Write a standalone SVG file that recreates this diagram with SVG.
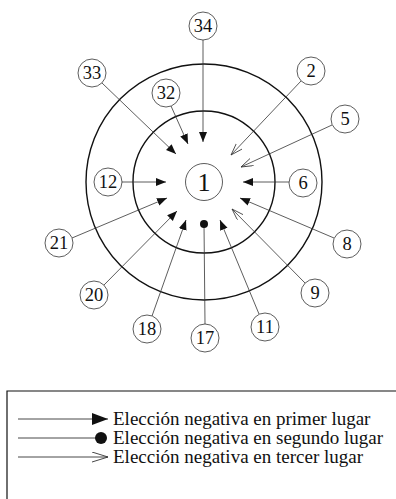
<svg xmlns="http://www.w3.org/2000/svg" width="396" height="499" viewBox="0 0 396 499">
<defs>
<style>
.ring{fill:none;stroke:#111;stroke-width:1.4}
.node circle{fill:#fff;stroke:#333;stroke-width:0.8}
.node text{font-size:18.5px;fill:#111;text-anchor:middle}
.c{stroke:#333;stroke-width:0.8;fill:none}
.f{marker-end:url(#fa)}
.o{marker-end:url(#oa)}
.leg{font-size:19px;fill:#111}
</style>
<marker id="fa" markerUnits="userSpaceOnUse" markerWidth="12" markerHeight="10" refX="10" refY="4" orient="auto">
<path d="M0,0 L10,4 L0,8 z" fill="#111"/>
</marker>
<marker id="oa" markerUnits="userSpaceOnUse" markerWidth="14" markerHeight="10" refX="12" refY="4" orient="auto">
<path d="M0,0 L12,4 L0,8" fill="none" stroke="#333" stroke-width="0.8"/>
</marker>
<marker id="lfa" markerUnits="userSpaceOnUse" markerWidth="18" markerHeight="14" refX="16" refY="6" orient="auto">
<path d="M0,0 L16,6 L0,12 z" fill="#111"/>
</marker>
<marker id="loa" markerUnits="userSpaceOnUse" markerWidth="18" markerHeight="14" refX="16" refY="5" orient="auto">
<path d="M0,0 L16,5 L0,10" fill="none" stroke="#333" stroke-width="0.9"/>
</marker>
</defs>
<rect width="396" height="499" fill="#fff"/>
<circle class="ring" cx="204" cy="182" r="118"/>
<circle class="ring" cx="204" cy="182" r="71"/>
<g id="connectors">
<line class="c f" x1="203" y1="40" x2="203" y2="142"/>
<line class="c f" x1="102" y1="83" x2="176" y2="154"/>
<line class="c f" x1="171" y1="106" x2="188" y2="144"/>
<line class="c o" x1="301" y1="81" x2="231" y2="155"/>
<line class="c o" x1="332" y1="125" x2="241" y2="167"/>
<line class="c f" x1="122" y1="182" x2="166" y2="182"/>
<line class="c f" x1="289" y1="182" x2="243" y2="182"/>
<line class="c f" x1="72" y1="238" x2="167" y2="198"/>
<line class="c f" x1="334" y1="238" x2="240" y2="198"/>
<line class="c f" x1="104" y1="285" x2="177" y2="211"/>
<line class="c o" x1="305" y1="283" x2="232" y2="209"/>
<line class="c f" x1="152" y1="316" x2="186" y2="220"/>
<line class="c" x1="205" y1="324" x2="204" y2="224"/>
<circle cx="204" cy="224" r="4" fill="#111"/>
<line class="c f" x1="259" y1="314" x2="220" y2="220"/>
</g>
<g font-family="'Liberation Serif', 'DejaVu Serif', serif">
<g id="n1" class="node"><circle cx="204" cy="182" r="18.5"/><text x="204" y="191" style="font-size:26px">1</text></g>
<g id="n34" class="node"><circle cx="203" cy="26" r="14"/><text x="203" y="32">34</text></g>
<g id="n33" class="node"><circle cx="92" cy="73" r="14"/><text x="92" y="79">33</text></g>
<g id="n32" class="node"><circle cx="166" cy="93" r="14"/><text x="166" y="99">32</text></g>
<g id="n2" class="node"><circle cx="311" cy="71" r="14"/><text x="311" y="77">2</text></g>
<g id="n5" class="node"><circle cx="345" cy="119" r="14"/><text x="345" y="125">5</text></g>
<g id="n12" class="node"><circle cx="108" cy="182" r="14"/><text x="108" y="188">12</text></g>
<g id="n6" class="node"><circle cx="303" cy="183" r="14"/><text x="303" y="189">6</text></g>
<g id="n21" class="node"><circle cx="59" cy="243" r="14"/><text x="59" y="249">21</text></g>
<g id="n8" class="node"><circle cx="347" cy="244" r="14"/><text x="347" y="250">8</text></g>
<g id="n20" class="node"><circle cx="94" cy="295" r="14"/><text x="94" y="301">20</text></g>
<g id="n9" class="node"><circle cx="315" cy="293" r="14"/><text x="315" y="299">9</text></g>
<g id="n18" class="node"><circle cx="147" cy="329" r="14"/><text x="147" y="335">18</text></g>
<g id="n17" class="node"><circle cx="205" cy="338" r="14"/><text x="205" y="344">17</text></g>
<g id="n11" class="node"><circle cx="265" cy="327" r="14"/><text x="265" y="333">11</text></g>
<g id="legend">
<path d="M396,391 H7 V499" fill="none" stroke="#111" stroke-width="1.2"/>
<line x1="18" y1="419" x2="108" y2="419" stroke="#333" stroke-width="0.9" marker-end="url(#lfa)"/>
<text class="leg" x="113" y="425">Elección negativa en primer lugar</text>
<line x1="18" y1="438" x2="96" y2="438" stroke="#333" stroke-width="0.9"/>
<circle cx="101" cy="438" r="6" fill="#111"/>
<text class="leg" x="113" y="444">Elección negativa en segundo lugar</text>
<line x1="18" y1="457" x2="108" y2="457" stroke="#333" stroke-width="0.9" marker-end="url(#loa)"/>
<text class="leg" x="113" y="463">Elección negativa en tercer lugar</text>
</g>
</g>
</svg>
